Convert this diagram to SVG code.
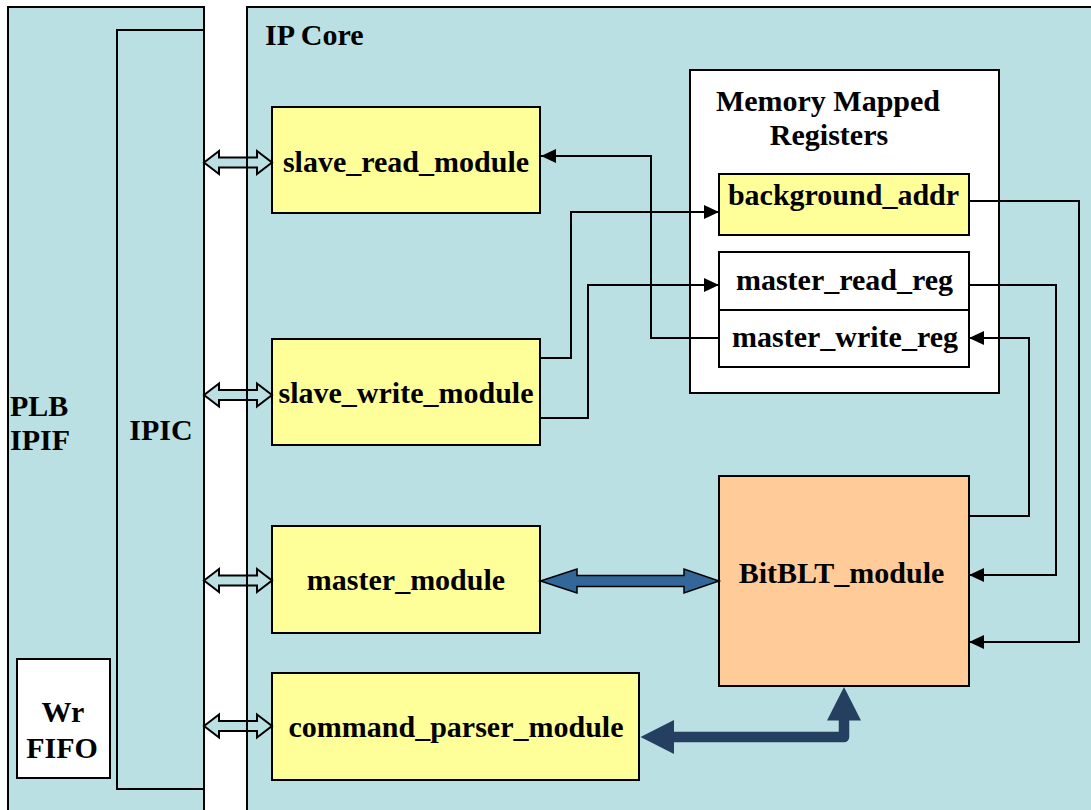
<svg xmlns="http://www.w3.org/2000/svg" width="1091" height="810" viewBox="0 0 1091 810">
  <style>
    .lbl { font-family: "Liberation Serif", "Times New Roman", serif; font-weight: bold; font-size: 30px; fill: #000; }
    .mid { text-anchor: middle; }
    .area { fill: #BBE0E3; stroke: #000; stroke-width: 2; }
    .mod { fill: #FFFF99; stroke: #000; stroke-width: 2; }
    .reg { fill: #FFFFFF; stroke: #000; stroke-width: 2; }
    .blt { fill: #FFCC99; stroke: #000; stroke-width: 2; }
    .wire { fill: none; stroke: #000; stroke-width: 2; }
    .bus { fill: #BBE0E3; stroke: #000; stroke-width: 2; stroke-linejoin: miter; }
    .data { fill: #336699; stroke: #000; stroke-width: 1.5; }
    .cmd { fill: none; stroke: #243F60; stroke-width: 10.5; stroke-linejoin: round; }
  </style>
  <defs>
    <marker id="tip" markerUnits="userSpaceOnUse" markerWidth="16" markerHeight="14" refX="15" refY="7" orient="auto">
      <path d="M0,0 L15,7 L0,14 Z" fill="#000"/>
    </marker>
  </defs>

  <rect x="0" y="0" width="1091" height="810" fill="#FFFFFF"/>

  <!-- PLB IPIF -->
  <g id="plb-ipif">
    <rect class="area" x="8" y="7" width="196" height="820"/>
    <text class="lbl" x="10" y="416">PLB</text>
    <text class="lbl" x="10" y="450">IPIF</text>
  </g>

  <!-- IPIC -->
  <g id="ipic">
    <rect class="area" x="117" y="30" width="87" height="759"/>
    <text class="lbl mid" x="161" y="440">IPIC</text>
  </g>

  <!-- Write FIFO -->
  <g id="wr-fifo">
    <rect class="reg" x="17" y="659" width="93" height="119"/>
    <text class="lbl mid" x="63" y="722">Wr</text>
    <text class="lbl mid" x="62" y="758">FIFO</text>
  </g>

  <!-- IP Core container (fill) -->
  <g id="ip-core">
    <rect x="247" y="7" width="860" height="820" fill="#BBE0E3"/>
    <text class="lbl" x="265" y="45">IP Core</text>
  </g>

  <!-- Memory mapped register block -->
  <g id="mem-regs">
    <rect class="reg" x="690" y="70" width="309" height="323"/>
    <text class="lbl mid" x="828" y="111">Memory Mapped</text>
    <text class="lbl mid" x="829" y="145">Registers</text>
  </g>

  <g id="background-addr">
    <rect class="mod" x="719" y="174" width="250" height="61"/>
    <text class="lbl mid" x="843.5" y="205">background_addr</text>
  </g>

  <g id="master-read-reg">
    <rect class="reg" x="719" y="252" width="250" height="58"/>
    <text class="lbl mid" x="844.5" y="290">master_read_reg</text>
  </g>

  <g id="master-write-reg">
    <rect class="reg" x="719" y="310" width="250" height="57"/>
    <text class="lbl mid" x="845" y="347">master_write_reg</text>
  </g>

  <!-- Modules -->
  <g id="slave-read-module">
    <rect class="mod" x="272" y="107" width="268" height="106"/>
    <text class="lbl mid" x="406" y="172">slave_read_module</text>
  </g>

  <g id="slave-write-module">
    <rect class="mod" x="272" y="339" width="268" height="106"/>
    <text class="lbl mid" x="406" y="403">slave_write_module</text>
  </g>

  <g id="master-module">
    <rect class="mod" x="272" y="526" width="268" height="107"/>
    <text class="lbl mid" x="406" y="590">master_module</text>
  </g>

  <g id="command-parser-module">
    <rect class="mod" x="272" y="673" width="367" height="107"/>
    <text class="lbl mid" x="456" y="737">command_parser_module</text>
  </g>

  <g id="bitblt-module">
    <rect class="blt" x="719" y="476" width="250" height="210"/>
    <text class="lbl mid" x="841.5" y="583">BitBLT_module</text>
  </g>

  <!-- Connectors -->
  <g id="connectors">
    <!-- IPIC <-> module bus arrows -->
    <path class="bus" d="M204,162.5 L219,151 L219,157.5 L257,157.5 L257,151 L272,162.5 L257,174 L257,167.5 L219,167.5 L219,174 Z"/>
    <path class="bus" d="M204,395 L219,383.5 L219,390 L257,390 L257,383.5 L272,395 L257,406.5 L257,400 L219,400 L219,406.5 Z"/>
    <path class="bus" d="M204,580.5 L219,569 L219,575.5 L257,575.5 L257,569 L272,580.5 L257,592 L257,585.5 L219,585.5 L219,592 Z"/>
    <path class="bus" d="M204,726 L219,714.5 L219,721 L257,721 L257,714.5 L272,726 L257,737.5 L257,731 L219,731 L219,737.5 Z"/>

    <!-- master_module <-> BitBLT_module data path -->
    <path class="data" d="M540.5,581 L577,569 L577,575.5 L684,575.5 L684,569 L719,581 L684,593 L684,586.5 L577,586.5 L577,593 Z"/>

    <!-- command_parser_module -> BitBLT_module -->
    <path class="cmd" d="M672,737 L844,737 L844,718"/>
    <path d="M640.5,737 L674,720 L674,754 Z" fill="#243F60"/>
    <path d="M844,687 L861,720.5 L827,720.5 Z" fill="#243F60"/>

    <!-- register wiring -->
    <path class="wire" d="M719,338 L651,338 L651,156 L541,156" marker-end="url(#tip)"/>
    <path class="wire" d="M540,358 L571,358 L571,212 L719,212" marker-end="url(#tip)"/>
    <path class="wire" d="M540,418 L588,418 L588,285 L719,285" marker-end="url(#tip)"/>
    <path class="wire" d="M969,201 L1079,201 L1079,642 L969,642" marker-end="url(#tip)"/>
    <path class="wire" d="M969,285 L1056,285 L1056,575 L969,575" marker-end="url(#tip)"/>
    <path class="wire" d="M969,516 L1029,516 L1029,338 L969,338" marker-end="url(#tip)"/>
  </g>

  <!-- IP Core outline, drawn over the bus arrows -->
  <path id="ip-core-edge" d="M247,827 L247,7 L1107,7" fill="none" stroke="#000" stroke-width="2"/>
</svg>
